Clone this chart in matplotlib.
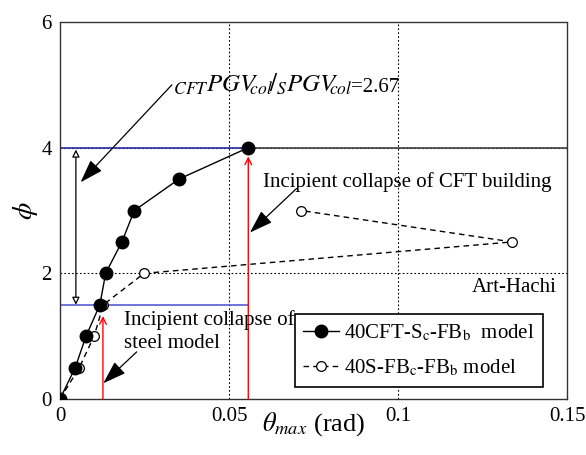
import matplotlib
matplotlib.use("Agg")
import matplotlib.pyplot as plt

plt.rcParams['font.family'] = ['Liberation Serif', 'DejaVu Serif']
plt.rcParams['mathtext.fontset'] = 'stix'

# Drift vs. intensity data
cft_theta = [0.0, 0.0045, 0.0077, 0.0118, 0.0135, 0.0183, 0.0220, 0.0352, 0.0557]
cft_phi = [0.0, 0.5, 1.0, 1.5, 2.0, 2.5, 3.0, 3.5, 4.0]
steel_theta = [0.0, 0.0057, 0.0101, 0.0128, 0.0249, 0.1338, 0.0713]
steel_phi = [0.0, 0.5, 1.0, 1.5, 2.0, 2.5, 3.0]

cft_collapse = (0.0557, 4.0)
steel_collapse = (0.0127, 1.5)

xticks = [0, 0.05, 0.1, 0.15]
xtick_labels = ['0', '0.05', '0.1', '0.15']
yticks = [0, 2, 4, 6]

fig = plt.figure(figsize=(5.86, 4.55), dpi=100)
ax = fig.add_axes([60 / 586, 56 / 455, 507 / 586, 377 / 455])
ax.set_xlim(0, 0.15)
ax.set_ylim(0, 6)
ax.set_xticks(xticks)
ax.set_xticklabels(xtick_labels)
ax.set_yticks(yticks)
ax.tick_params(length=0, labelsize=15, pad=6)
for s in ax.spines.values():
    s.set_linestyle((0, (1, 1)))
    s.set_linewidth(1.0)
    s.set_color('0.2')

# dotted grid
for gx in [0.05, 0.1]:
    ax.axvline(gx, color='k', lw=0.8, ls=(0, (1.5, 2)), zorder=1)
for gy in [2, 4]:
    ax.axhline(gy, color='k', lw=0.8, ls=(0, (1.5, 2)), zorder=1)

# reference levels
ax.plot([0, cft_collapse[0]], [cft_collapse[1]] * 2, color='#2a2aa8', lw=1.2, zorder=2)
ax.plot([cft_collapse[0], 0.15], [cft_collapse[1]] * 2, color='0.25', lw=1.2, zorder=2)
ax.plot([0, cft_collapse[0]], [steel_collapse[1]] * 2, color='#5a5ad8', lw=1.2, zorder=2)

# collapse markers (red arrows)
ax.annotate('', xy=(cft_collapse[0], 3.86), xytext=(cft_collapse[0], 0),
            arrowprops=dict(arrowstyle='->', color='red', lw=1.0,
                            shrinkA=0, shrinkB=0, mutation_scale=12), zorder=3)
ax.annotate('', xy=(steel_collapse[0], 1.32), xytext=(steel_collapse[0], 0),
            arrowprops=dict(arrowstyle='->', color='red', lw=1.0,
                            shrinkA=0, shrinkB=0, mutation_scale=12), zorder=3)

# double-headed arrow between collapse levels
ax.annotate('', xy=(0.0047, 3.97), xytext=(0.0047, 1.5),
            arrowprops=dict(arrowstyle='<|-|>', color='k', fc='white', lw=0.9,
                            shrinkA=0, shrinkB=0, mutation_scale=11), zorder=3)

# data series
ax.plot(steel_theta, steel_phi, color='k', ls=(0, (4, 3)), lw=1.0,
        marker='o', ms=7, mfc='white', mec='k', mew=0.9, zorder=4,
        label=r'40S-FB$_\mathrm{c}$-FB$_\mathrm{b}$ model')
ax.plot(cft_theta, cft_phi, color='k', ls='-', lw=1.0,
        marker='o', ms=9, mfc='k', mec='k', zorder=5,
        label=r'40CFT-S$_\mathrm{c}$-FB$_\mathrm{b}$  model')

arrow_kw = dict(arrowstyle='-|>,head_length=0.9,head_width=0.3', color='k',
                lw=0.9, shrinkA=0, shrinkB=0, mutation_scale=16)

ax.annotate('', xy=(0.0061, 3.45), xytext=(0.0331, 5.0),
            arrowprops=arrow_kw, zorder=6)
ratio = ax.text(0.0334, 5.0,
                r'${}_{CFT}PGV\!\!_{col}\!/{}_{S}PGV\!\!_{col}$',
                fontsize=18, ha='left', va='center', zorder=6)
ax.annotate('=2.67', xy=(1, 0), xycoords=ratio, xytext=(-1, 4),
            textcoords='offset points', fontsize=15, ha='left',
            va='baseline', zorder=6)

ax.annotate('', xy=(0.0562, 2.65), xytext=(0.0700, 3.35),
            arrowprops=arrow_kw, zorder=6)
ax.text(0.0602, 3.45, 'Incipient collapse of CFT building', fontsize=15,
        ha='left', va='center', zorder=6)
ax.annotate('', xy=(0.0128, 0.25), xytext=(0.0227, 0.75),
            arrowprops=arrow_kw, zorder=6)
ax.text(0.0190, 1.26, 'Incipient collapse of', fontsize=15,
        ha='left', va='center', zorder=6)
ax.text(0.0190, 0.89, 'steel model', fontsize=15,
        ha='left', va='center', zorder=6)
ax.text(0.1470, 1.77, 'Art-Hachi', fontsize=15, ha='right', va='center', zorder=6)

handles, labels = ax.get_legend_handles_labels()
leg = ax.legend(handles[::-1], labels[::-1], loc='lower right',
                bbox_to_anchor=((543 - 60) / 507, (399 - 387) / 377),
                bbox_transform=ax.transAxes,
                fontsize=15, frameon=True, fancybox=False, framealpha=1,
                edgecolor='k', handlelength=1.7, handletextpad=0.25,
                borderpad=0.4, labelspacing=0.72, borderaxespad=0)
leg.get_frame().set_linewidth(1.2)
leg.set_zorder(7)

ax.set_ylabel(r'$\phi$', fontsize=20, labelpad=1)
ax.set_xlabel(r'$\theta_{max}$ (rad)', fontsize=19, labelpad=-12)

fig.savefig('out.png', dpi=100)
